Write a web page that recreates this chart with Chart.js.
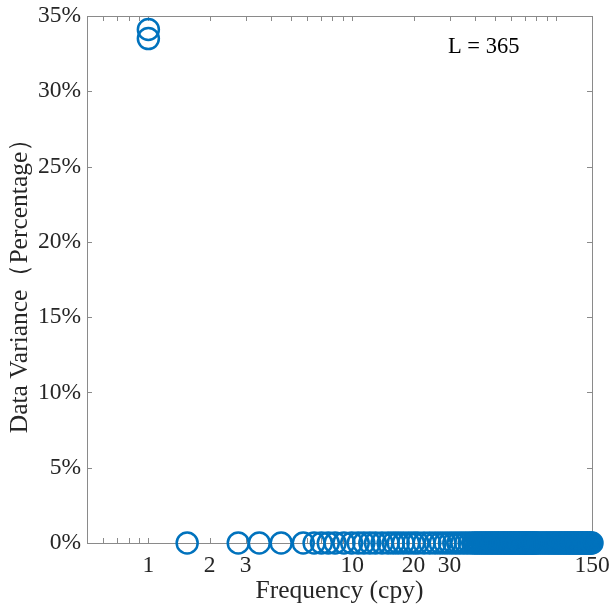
<!DOCTYPE html>
<html>
<head>
<meta charset="utf-8">
<script src="https://cdn.jsdelivr.net/npm/chart.js@4/dist/chart.umd.min.js"></script>
<style>
html,body{margin:0;padding:0;background:#fff;overflow:hidden;}
#wrap{width:611px;height:609px;}
</style>
</head>
<body>
<div id="wrap"><canvas id="chart"></canvas></div>
<script>

/* ================= DATA ================= */

// frequency (cpy) of each component
let freqs = [1, 1,
1.55, 2.76, 3.5, 4.48, 5.75, 6.5, 7.06, 7.63, 8.24, 9.1, 9.94, 10.7, 11.4, 12.2, 13.0, 14.0, 15.0, 15.9, 16.8, 17.8, 18.9,
20, 21, 22.5, 24, 25.5, 27, 28.5, 30, 31.5, 33, 34.5, 36, 37.5, 39,
40, 41, 42, 43, 44, 45, 46, 47, 48, 49, 50, 51, 52, 53, 54, 55, 56, 57, 58, 59,
60, 61, 62, 63, 64, 65, 66, 67, 68, 69, 70, 71, 72, 73, 74, 75, 76, 77, 78, 79,
80, 82, 84, 86, 88, 90, 92, 94, 96, 98, 100, 102, 104, 106, 108, 110, 112, 114, 116, 118,
120, 122, 124, 126, 128, 130, 132, 134, 136, 138, 140, 142, 144, 146, 148, 150];

// share of data variance (%)
let variances = [34.1, 33.5,
0, 0, 0, 0, 0, 0, 0, 0, 0, 0, 0, 0, 0, 0, 0, 0, 0, 0, 0, 0, 0,
0, 0, 0, 0, 0, 0, 0, 0, 0, 0, 0, 0, 0, 0,
0, 0, 0, 0, 0, 0, 0, 0, 0, 0, 0, 0, 0, 0, 0, 0, 0, 0, 0, 0,
0, 0, 0, 0, 0, 0, 0, 0, 0, 0, 0, 0, 0, 0, 0, 0, 0, 0, 0, 0,
0, 0, 0, 0, 0, 0, 0, 0, 0, 0, 0, 0, 0, 0, 0, 0, 0, 0, 0, 0,
0, 0, 0, 0, 0, 0, 0, 0, 0, 0, 0, 0, 0, 0, 0, 0];

let xTickValues = [0.6, 0.7, 0.8, 0.9, 1, 2, 3, 4, 5, 6, 7, 8, 9, 10, 20, 30, 40, 50, 60, 70, 80, 90, 100, 150];
let xTickLabels = [1, 2, 3, 10, 20, 30, 150];
let yTickValues = [0, 5, 10, 15, 20, 25, 30, 35];

let points = freqs.map((f,i)=>({x:f, y:variances[i]}));

const SERIF = "'Liberation Serif', 'Times New Roman', serif";
const AXIS_GREY = "#8a8a8a";
const TEXT = "#262626";

/* ================= BOX + INWARD TICKS ================= */

const boxPlugin = {
id:"box",
beforeDatasetsDraw(chart){
let ctx = chart.ctx;
let a = chart.chartArea;
let xs = chart.scales.x;
let ys = chart.scales.y;
ctx.save();
ctx.strokeStyle = AXIS_GREY;
ctx.lineWidth = 1;
ctx.beginPath();
xTickValues.forEach(v=>{
let px = Math.round(xs.getPixelForValue(v)) + 0.5;
ctx.moveTo(px, a.bottom); ctx.lineTo(px, a.bottom - 5);
ctx.moveTo(px, a.top); ctx.lineTo(px, a.top + 5);
});
yTickValues.forEach(v=>{
let py = Math.round(ys.getPixelForValue(v)) + 0.5;
ctx.moveTo(a.left, py); ctx.lineTo(a.left + 5, py);
ctx.moveTo(a.right, py); ctx.lineTo(a.right - 5, py);
});
ctx.stroke();
ctx.strokeRect(Math.round(a.left)+0.5, Math.round(a.top)+0.5, Math.round(a.right-a.left), Math.round(a.bottom-a.top));
ctx.restore();
},
afterDraw(chart){
let ctx = chart.ctx;
let a = chart.chartArea;
ctx.save();
ctx.fillStyle = "#000";
ctx.font = "22.5px " + SERIF;
ctx.textBaseline = "middle";
ctx.textAlign = "left";
ctx.fillText("L = 365", a.left + 361, a.top + 31);
ctx.restore();
}
};

/* ================= CHART ================= */

new Chart(document.getElementById("chart"),{
type:"scatter",
data:{
datasets:[{
data:points,
pointStyle:"circle",
pointRadius:10.5,
pointHoverRadius:10.5,
pointBorderWidth:2.5,
borderColor:"#0072BD",
backgroundColor:"rgba(0,0,0,0)",
clip:false
}]
},
options:{
responsive:true,
maintainAspectRatio:false,
animation:false,
layout:{padding:{top:16,right:19,left:0,bottom:0}},
plugins:{legend:{display:false},tooltip:{enabled:false}},
scales:{
x:{
type:"logarithmic",
min:0.5,
max:150,
afterBuildTicks:axis=>{
axis.ticks = xTickValues.map(v=>({value:v}));
},
afterFit:s=>{ s.height = 66; s.paddingLeft = 0; s.paddingRight = 0; },
grid:{display:false,drawTicks:false},
border:{display:false},
ticks:{
autoSkip:false,
maxRotation:0,
padding:9,
color:TEXT,
font:{family:SERIF,size:23.5},
callback:function(v){
return xTickLabels.includes(v) ? String(v) : "";
}
},
title:{
display:true,
text:"Frequency (cpy)",
color:TEXT,
font:{family:SERIF,size:25.5},
padding:{top:0,bottom:2}
}
},
y:{
min:0,
max:35,
afterBuildTicks:axis=>{
axis.ticks = yTickValues.map(v=>({value:v}));
},
afterFit:s=>{ s.width = 87; s.paddingTop = 0; s.paddingBottom = 0; },
grid:{display:false,drawTicks:false},
border:{display:false},
ticks:{
padding:6,
color:TEXT,
font:{family:SERIF,size:23.5},
callback:v=>v + "%"
},
title:{
display:true,
text:"Data Variance（Percentage）",
color:TEXT,
font:{family:SERIF,size:25.5},
padding:{top:5,bottom:0}
}
}
}
},
plugins:[boxPlugin]
});

</script>
</body>
</html>
